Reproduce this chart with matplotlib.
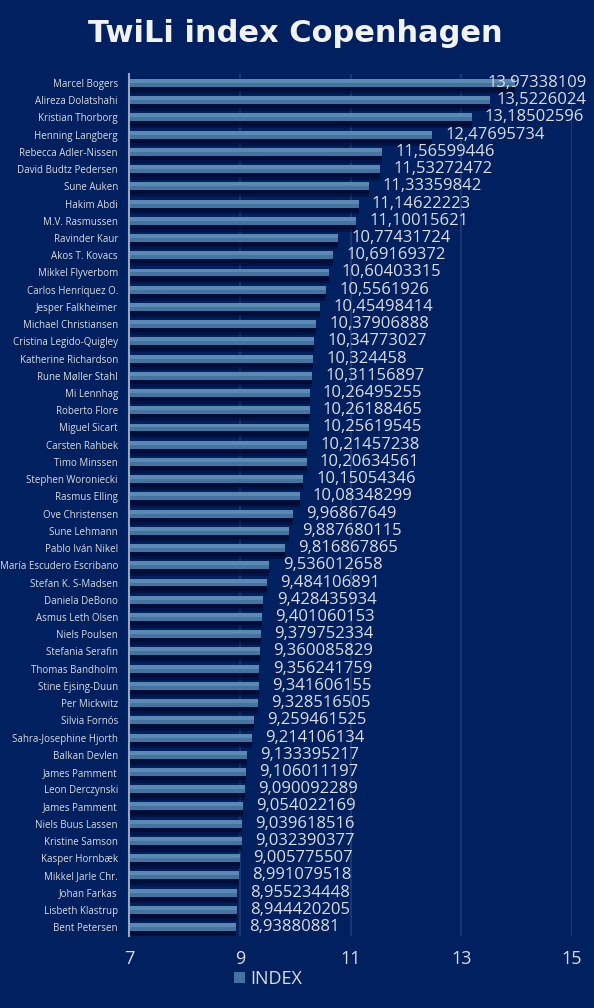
import numpy as np
import matplotlib
matplotlib.use("Agg")
import matplotlib.pyplot as plt
import matplotlib.patheffects as pe
from matplotlib.patches import Patch

# ── Data ────────────────────────────────────────────────────────────────
names = [
    "Marcel Bogers", "Alireza Dolatshahi", "Kristian Thorborg", "Henning Langberg",
    "Rebecca Adler-Nissen", "David Budtz Pedersen", "Sune Auken", "Hakim Abdi",
    "M.V. Rasmussen", "Ravinder Kaur", "Akos T. Kovacs", "Mikkel Flyverbom",
    "Carlos Henríquez O.", "Jesper Falkheimer", "Michael Christiansen",
    "Cristina Legido-Quigley", "Katherine Richardson", "Rune Møller Stahl",
    "Mi Lennhag", "Roberto Flore", "Miguel Sicart", "Carsten Rahbek",
    "Timo Minssen", "Stephen Woroniecki", "Rasmus Elling", "Ove Christensen",
    "Sune Lehmann", "Pablo Iván Nikel", "María Escudero Escribano",
    "Stefan K. S-Madsen", "Daniela DeBono", "Asmus Leth Olsen", "Niels Poulsen",
    "Stefania Serafin", "Thomas Bandholm", "Stine Ejsing-Duun", "Per Mickwitz",
    "Silvia Fornós", "Sahra-Josephine Hjorth", "Balkan Devlen", "James Pamment",
    "Leon Derczynski", "James Pamment", "Niels Buus Lassen", "Kristine Samson",
    "Kasper Hornbæk", "Mikkel Jarle Chr.", "Johan Farkas", "Lisbeth Klastrup",
    "Bent Petersen",
]
index_values = [
    13.97338109, 13.5226024, 13.18502596, 12.47695734, 11.56599446, 11.53272472,
    11.33359842, 11.14622223, 11.10015621, 10.77431724, 10.69169372, 10.60403315,
    10.5561926, 10.45498414, 10.37906888, 10.34773027, 10.324458, 10.31156897,
    10.26495255, 10.26188465, 10.25619545, 10.21457238, 10.20634561, 10.15054346,
    10.08348299, 9.96867649, 9.887680115, 9.816867865, 9.536012658, 9.484106891,
    9.428435934, 9.401060153, 9.379752334, 9.360085829, 9.356241759, 9.341606155,
    9.328516505, 9.259461525, 9.214106134, 9.133395217, 9.106011197, 9.090092289,
    9.054022169, 9.039618516, 9.032390377, 9.005775507, 8.991079518, 8.955234448,
    8.944420205, 8.93880881,
]
x_ticks = [7, 9, 11, 13, 15]
value_labels = [str(v).replace(".", ",") for v in index_values]

# ── Style ───────────────────────────────────────────────────────────────
BG = "#002060"
TXT = "#dcdcdc"
BAR = "#4373a0"
BAR_TOP = "#6a9abe"
GRID = "#213c78"
plt.rcParams["font.family"] = ["Open Sans", "DejaVu Sans"]

fig = plt.figure(figsize=(5.94, 10.08), dpi=100, facecolor=BG)
ax = fig.add_axes([0.2172, 0.0718, 0.7458, 0.8544])
ax.set_facecolor(BG)

y = np.arange(len(names))
base = x_ticks[0]
widths = np.array(index_values) - base
h = 0.46

bars = ax.barh(y, widths, left=base, height=h, color=BAR, zorder=3)
for b in bars:
    b.set_path_effects([
        pe.SimplePatchShadow(offset=(0, -5), shadow_rgbFace="#000b33", alpha=0.55),
        pe.SimplePatchShadow(offset=(0, -3), shadow_rgbFace="#000a30", alpha=0.75),
        pe.Normal(),
    ])
# lighter upper half to mimic the gradient
ax.barh(y - h / 4, widths, left=base, height=h / 2, color=BAR_TOP, alpha=0.6,
        zorder=4)

ax.set_xlim(x_ticks[0], x_ticks[-1])
ax.set_ylim(len(names) - 0.5, -0.5)
ax.set_xticks(x_ticks)
ax.set_xticklabels([])
ax.set_yticks(y)
ax.set_yticklabels(names, fontsize=7, color=TXT)
ax.tick_params(axis="x", length=0)
ax.tick_params(axis="y", length=0, pad=8)
ax.grid(axis="x", color=GRID, linewidth=1.2, zorder=0)
for s in ["top", "right", "bottom"]:
    ax.spines[s].set_visible(False)
ax.spines["left"].set_color("#9aa6bd")
ax.spines["left"].set_linewidth(1.5)
ax.spines["left"].set_zorder(5)

# x tick labels drawn as plain texts under the axis
for t in x_ticks:
    ax.annotate(str(t), xy=(t, 0), xycoords=ax.get_xaxis_transform(),
                xytext=(0, -17), textcoords="offset points", ha="center",
                va="center", fontsize=13, color=TXT, annotation_clip=False)

# value labels, pushed back inside the chart area when they would overflow
fig.canvas.draw()
renderer = fig.canvas.get_renderer()
limit_px = 0.988 * fig.bbox.width
for yi, v, lab in zip(y, index_values, value_labels):
    t = ax.annotate(lab, xy=(v, yi), xytext=(9.5, 0), textcoords="offset points",
                    ha="left", va="center", fontsize=12, color=TXT, zorder=6)
    bb = t.get_window_extent(renderer)
    if bb.x1 > limit_px:
        t.remove()
        fig.text(0.988, ax.transData.transform((v, yi))[1] / fig.bbox.height,
                 lab, ha="right", va="center", fontsize=12, color=TXT, zorder=6)

fig.suptitle("TwiLi index Copenhagen", x=0.497, y=0.981, fontsize=22,
             fontweight="bold", color="#f2f2f2", family="DejaVu Sans")

handle = Patch(facecolor=BAR, edgecolor="none")
leg = fig.legend([handle], ["INDEX"], loc="center", bbox_to_anchor=(0.452, 0.029),
                 frameon=False, fontsize=13, handlelength=0.6, handleheight=0.6,
                 handletextpad=0.3, labelcolor=TXT, borderpad=0.1)

fig.savefig("out.png", dpi=100, facecolor=BG)
